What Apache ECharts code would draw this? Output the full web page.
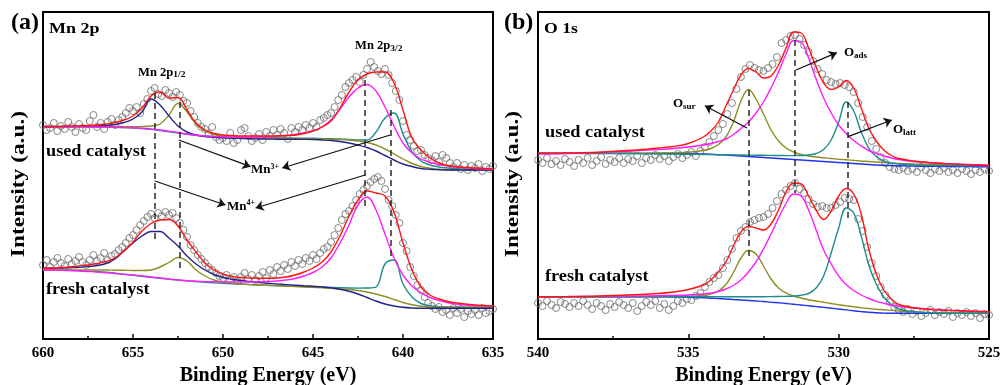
<!DOCTYPE html>
<html>
<head>
<meta charset="utf-8">
<title>XPS Mn 2p / O 1s</title>
<script src="https://cdn.jsdelivr.net/npm/echarts@6/dist/echarts.min.js"></script>
<style>
  html, body { margin: 0; padding: 0; background: #fff; }
  #main { width: 1001px; height: 385px; }
</style>
</head>
<body>
<div id="main"></div>
<script>
// ---------- Mn 2p panel (a): fit curves on a 0.5 eV grid ----------
const mnEnergy = [660,659.5,659,658.5,658,657.5,657,656.5,656,655.5,655,654.5,654,653.5,653,652.5,652,651.5,651,650.5,
  650,649.5,649,648.5,648,647.5,647,646.5,646,645.5,645,644.5,644,643.5,643,642.5,642,641.5,641,640.5,
  640,639.5,639,638.5,638,637.5,637,636.5,636,635.5,635];

// used catalyst
const mnUsedFit = [212.5,212.5,212.7,213,213.2,213.5,214,215,216.5,219,223,231,243,247,241,241.5,229,216,209,205.5,
  204,203.5,203,203,203,203,203.2,203.5,204,205.5,208,212,218,231,247,259,265,267,267,256,
  229,201,189,181,176,173.5,172,171.5,171,170.5,170];
const mnUsedMn4a = [212.3,212.3,212.4,212.5,212.6,212.8,213,213.5,214.5,216.5,220,227,240,234,223,213,207,204,202.5,201.7,
  201.2,200.8,200.5,200.3,200,199.9,199.8,199.7,199.7,199.6,199.5,199,198.5,197.5,196,194,191.5,188,183.5,179,
  175,172.5,170.5,169.7,169.3,169,169,169,169,169,169];
const mnUsedMn3a = [212.5,212.5,212.5,212.5,212.5,212.5,212.5,212.5,212.5,212.4,212.3,212.4,213,215,224,235.5,227,215,208,204.5,
  202.7,202,201.6,201.3,201.1,201,200.8,200.7,200.5,200.4,200.2,200,199.8,199.5,199,198,196.5,194,190,185,
  180,175.5,172.5,170.7,169.8,169.4,169.2,169,169,169,169];
const mnUsedMn4b = [212.3,212.3,212.3,212.2,212.2,212.1,212,212,211.8,211.5,211.2,210.7,210,209,207.8,206.5,205,203.8,203,202.4,
  202,201.8,201.7,201.8,202,202.3,202.8,203.5,204.5,206,208,212,219,230,242,251,254.5,248,232,213,
  196,186,180,176.5,174.5,173,172,171.2,170.5,170,169.5];
const mnUsedMn3b = [212.3,212.3,212.3,212.2,212.2,212.1,212,211.9,211.7,211.4,211,210.4,209.6,208.5,207.2,206,204.7,203.7,203,202.4,
  202,201.7,201.5,201.4,201.3,201.2,201.1,201,200.9,200.8,200.7,200.5,200.3,200,199.5,199,199,207,221,226,
  205,187,178,174,172,171,170.3,169.8,169.5,169.3,169];

// fresh catalyst
const mnFreshFit = [70.7,71,71.5,72,73,74,75.5,77.5,81,88,97,108,115.5,119,119.5,113,99,87,76,69,
  65,62.5,61.5,61,60.7,60.7,61,62,64,67,71,77,87,103,123,139,148,146,143,127,
  96,69,52,44,40,37.5,36,35,34,33.5,33];
const mnFreshMn4a = [70.7,70.8,71,71.3,71.7,72.5,73.5,75.5,80,88,96,103,107.5,107.5,101,93,83,75,69,64.5,
  61.5,59.7,58.5,57.5,56.5,55.7,55,54.4,53.8,53.2,52.7,52.1,51.2,49.7,47.7,45,41.5,38,35,33,
  31.7,31,30.7,30.7,30.7,30.7,30.7,30.7,30.7,30.7,30.7];
const mnFreshMn3a = [69,69,69,69,69,69,69,69,68.8,68.7,68.5,68.5,69,72,76.5,81.5,78,69,63,59,
  57,55.8,55,54.4,54,53.6,53.2,52.8,52.4,52,51.6,51.2,50.8,50.2,49.5,48.5,47,45,42.5,39.5,
  36.5,34.2,32.7,32,31.7,31.7,31.7,31.7,31.7,31.7,31.7];
const mnFreshMn4b = [69,69,68.8,68.5,68,67.5,67,66.3,65.5,64.7,64,63,62,61,60,59,58.2,57.7,57.4,57.2,
  57,57,57,57,57.2,57.5,58,59,60.5,63,66.5,72,81,96,114,134,142,129,105,81,
  64,53,46,41.5,38.5,36.2,35,34,33.5,33.2,33];
const mnFreshMn3b = [69,69,68.9,68.7,68.4,68,67.4,66.7,65.8,64.8,63.8,62.8,61.8,60.8,59.8,59,58.2,57.5,56.8,56.2,
  55.7,55.2,54.8,54.4,54,53.7,53.4,53.1,52.8,52.5,52.2,51.9,51.6,51.3,51,50.9,51,52,75,79,
  55,42,35.5,33.2,32.2,31.8,31.7,31.7,31.7,31.7,31.7];

// measured points, 0.2 eV step
const mnPointEnergy = [660,659.8,659.6,659.4,659.2,659,658.8,658.6,658.4,658.2,658,657.8,657.6,657.4,657.2,
  657,656.8,656.6,656.4,656.2,656,655.8,655.6,655.4,655.2,655,654.8,654.6,654.4,654.2,
  654,653.8,653.6,653.4,653.2,653,652.8,652.6,652.4,652.2,652,651.8,651.6,651.4,651.2,
  651,650.8,650.6,650.4,650.2,650,649.8,649.6,649.4,649.2,649,648.8,648.6,648.4,648.2,
  648,647.8,647.6,647.4,647.2,647,646.8,646.6,646.4,646.2,646,645.8,645.6,645.4,645.2,
  645,644.8,644.6,644.4,644.2,644,643.8,643.6,643.4,643.2,643,642.8,642.6,642.4,642.2,
  642,641.8,641.6,641.4,641.2,641,640.8,640.6,640.4,640.2,640,639.8,639.6,639.4,639.2,
  639,638.8,638.6,638.4,638.2,638,637.8,637.6,637.4,637.2,637,636.8,636.6,636.4,636.2,
  636,635.8,635.6,635.4,635.2,635];
const mnUsedPoints = [214,209,211,216,208,213,210,217,212,207,215,211,209,218,224,
  212,216,210,217,220,214,219,222,226,231,228,232,226,235,240,
  248,251,245,243,249,246,242,247,244,238,236,228,222,216,212,
  210,205,212,202,199,201,198,206,196,199,209,211,203,198,201,
  205,199,207,203,209,204,210,206,200,211,207,212,209,214,211,
  216,212,219,221,224,226,232,239,244,252,256,259,262,257,264,
  270,277,272,268,265,270,264,256,248,239,218,204,199,193,188,
  189,184,181,179,183,177,184,181,176,172,176,170,174,169,173,
  171,175,168,172,170,173];
const mnFreshPoints = [74,79,72,77,81,76,73,80,75,78,82,77,74,79,84,
  78,81,86,79,83,85,89,92,96,101,104,109,114,118,122,
  125,121,126,123,127,124,126,121,116,109,102,94,89,84,80,
  76,72,69,66,63,61,64,59,62,58,62,66,60,64,59,
  63,67,61,69,65,72,68,74,70,77,73,79,75,81,78,
  84,80,86,90,92,97,104,111,119,125,128,133,139,145,149,
  153,157,160,162,158,150,139,133,124,116,96,88,72,63,54,
  49,42,36,33,30,32,27,29,24,31,26,30,22,28,25,
  29,24,31,26,28,30];

// ---------- O 1s panel (b) ----------
const oEnergy = [540,539,538,537,536,535.5,535,534.5,534.25,534,533.75,533.5,533.25,533,532.75,532.5,532.25,532,531.75,531.5,
  531.25,531,530.75,530.5,530.25,530,529.75,529.5,529.25,529,528.75,528.5,528.25,528,527.5,527,526.5,526,525.5,525];

const oUsedFit = [185.7,186,186.7,188.5,191,192.5,195.5,202,208,217,233,249,264,270.5,267,261,263,274,291,307,
  306,291,272,256,249.5,252,258.5,251,231,211,198,189,183.5,180.5,178,176.5,175.5,174.7,174,173.3];
const oUsedSur = [185.7,185.7,185.7,185.8,186,186.2,186.7,188.5,190.5,194.5,202,217,238,249.5,240,225,209,198,191,187,
  184.5,183,182,181.2,180.5,179.8,179.2,178.6,178,177.5,177,176.5,176,175.6,175,174.6,174.3,174,173.8,173.7];
const oUsedAds = [185,185.5,186.5,187.8,189.5,190.5,192,194,195.5,197.5,200,204.5,210.5,217,226,237,251,267,285,298.5,
  297,281,260,241,226,214,205.5,198.5,193,188.5,185.5,183,181,179.5,177.5,176.3,175.5,174.8,174.4,174];
const oUsedLatt = [185.7,185.6,185.5,185.3,185,184.9,184.7,184.5,184.4,184.3,184.2,184.1,184,183.9,183.8,183.7,183.6,183.5,183.4,183.4,
  183.5,184,185.5,189.5,199,217,237,228,207,191,182.5,178,176,175,174,173.6,173.4,173.3,173.3,173.3];
const oUsedBg = [185.7,185.7,185.7,185.7,185.6,185.5,185.3,185,184.7,184.3,183.9,183.5,183,182.5,182,181.5,181,180.5,180,179.5,
  179,178.5,178,177.5,177,176.5,176,175.5,175,174.5,174,173.7,173.4,173.2,172.9,172.7,172.5,172.4,172.3,172.3];

const oFreshFit = [42.3,42.5,43,44,45.5,47,49.5,54,59,67,77,93,107,112.5,111,109,115,129,147,156,
  155,143,129,119.5,128,143,150.5,145,125,90,65,49,40,34.5,31.2,29.7,28.8,28.2,27.7,27.3];
const oFreshSur = [42.3,42.3,42.3,42.3,42.3,42.4,42.6,43.5,45,48,54.5,66.5,81,88.5,85,73,60,51,46,43,
  41,39.3,38,36.7,35.5,34.3,33.2,32.2,31.3,30.5,29.8,29.2,28.6,28,27.2,26.6,26.2,25.9,25.7,25.7];
const oFreshAds = [42.3,42.4,42.6,42.9,43.3,43.6,44,45,46,47.5,50,53.5,59,67,77,90,105,121,135.5,145,
  143,129,109,89,75,63,54.5,48.5,44,40.5,37.7,35.7,34,32.7,31,29.8,29,28.3,27.8,27.3];
const oFreshLatt = [42.3,42.3,42.3,42.3,42.3,42.3,42.3,42.3,42.3,42.3,42.3,42.3,42.3,42.3,42.3,42.3,42.4,42.5,42.7,43,
  43.8,45.5,51,63,86,111,131,126,103,74,55,42,34.5,30,27.2,26.2,25.8,25.7,25.7,25.7];
const oFreshBg = [42.3,42.3,42.3,42.3,42.2,42,41.7,41.2,40.8,40.4,40,39.5,39,38.5,38,37.5,36.8,36.2,35.5,34.8,
  34,33.2,32.4,31.6,30.8,30,29.1,28.2,27.4,26.7,26.2,25.9,25.7,25.7,25.7,25.7,25.7,25.7,25.7,25.7];

// measured points, 0.15 eV step
const oPointEnergy = [540,539.85,539.7,539.55,539.4,539.25,539.1,538.95,538.8,538.65,
  538.5,538.35,538.2,538.05,537.9,537.75,537.6,537.45,537.3,537.15,
  537,536.85,536.7,536.55,536.4,536.25,536.1,535.95,535.8,535.65,
  535.5,535.35,535.2,535.05,534.9,534.75,534.6,534.45,534.3,534.15,
  534,533.85,533.7,533.55,533.4,533.25,533.1,532.95,532.8,532.65,
  532.5,532.35,532.2,532.05,531.9,531.75,531.6,531.45,531.3,531.15,
  531,530.85,530.7,530.55,530.4,530.25,530.1,529.95,529.8,529.65,
  529.5,529.35,529.2,529.05,528.9,528.75,528.6,528.45,528.3,528.15,
  528,527.85,527.7,527.55,527.4,527.25,527.1,526.95,526.8,526.65,
  526.5,526.35,526.2,526.05,525.9,525.75,525.6,525.45,525.3,525.15,525];
const oUsedPoints = [179,176,181,175,178,174,180,177,173,179,
  176,181,174,178,182,175,179,177,181,176,
  180,178,183,176,181,179,184,180,183,178,
  182,185,181,184,187,183,188,192,197,203,
  209,215,225,236,250,262,270,274,271,269,
  268,271,275,282,296,299,303,304,300,294,
  287,278,270,265,259,257,255,256,254,252,
  247,236,222,212,198,190,182,176,172,170,
  169,171,168,170,167,172,169,166,170,168,
  171,167,169,166,170,168,165,169,167,170,168];
const oFreshPoints = [36,33,38,34,31,37,35,32,36,33,
  38,34,30,36,33,29,35,32,37,34,
  31,36,28,33,37,34,38,31,35,29,
  33,38,36,40,39,43,46,52,57,61,
  64,71,79,90,101,108,112,117,119,121,
  122,125,131,138,145,149,153,156,150,146,
  140,135,132,133,131,131,134,137,141,140,
  139,120,108,92,76,63,52,44,37,32,
  29,27,30,25,28,23,26,29,24,27,
  25,28,22,26,24,27,23,26,21,25,24];

// ---------- annotations (data units) ----------
// dashed peak markers: [energy, top, bottom]
const mnPeakMarks = [[653.8, 246, 99], [652.4, 237, 71], [642.1, 259, 132], [640.7, 229, 81]];
const oPeakMarks = [[533.0, 249, 79], [531.45, 299, 146], [529.7, 237, 119]];
// arrows: [[from], [to]]
const mnArrows = [[[652.46, 199], [648.47, 172.3]], [[640.71, 204], [646.71, 171]],
  [[653.79, 158], [649.86, 134]], [[642.1, 164], [648.19, 131]]];
const oArrows = [[[533.05, 211], [534.45, 233.3]], [[531.42, 269], [530.06, 286.3]], [[529.69, 202.3], [528.23, 219]]];

// ---------- chart ----------
const SERIF = '"Liberation Serif", "Times New Roman", serif';
const C = { fit: '#ff1414', mn4a: '#23238c', mn3a: '#8e8e22', mn4b: '#ff1cff', mn3b: '#1f8c8c',
  sur: '#8e8e22', ads: '#ff1cff', latt: '#1f8c8c', bg: '#2233ee' };

function zip(xs, ys) { return xs.map((x, i) => [x, ys[i]]); }

function curve(g, xs, ys, color, extra) {
  return Object.assign({
    type: 'line', xAxisIndex: g, yAxisIndex: g, data: zip(xs, ys),
    smooth: 0.4, symbol: 'none', showSymbol: false, silent: true, z: 3,
    lineStyle: { color: color, width: 1.4 }
  }, extra || {});
}

function dots(g, xs, ys) {
  return {
    type: 'scatter', xAxisIndex: g, yAxisIndex: g, data: zip(xs, ys),
    symbol: 'circle', symbolSize: 7, silent: true, z: 2,
    itemStyle: { color: 'rgba(255,255,255,0)', borderColor: '#6a6a6a', borderWidth: 1 }
  };
}

function dashMarks(list) {
  return {
    silent: true, symbol: 'none', label: { show: false },
    lineStyle: { color: '#2a2a2a', width: 1.5, type: [6, 4] },
    data: list.map(d => [{ coord: [d[0], d[1]] }, { coord: [d[0], d[2]] }])
  };
}

function arrowMarks(list) {
  return {
    silent: true, symbol: ['none', 'arrow'], symbolSize: 8, label: { show: false },
    lineStyle: { color: '#111', width: 1.3, type: 'solid' },
    data: list.map(a => [{ coord: a[0] }, { coord: a[1] }])
  };
}

function xAxisFor(g, min, max) {
  return {
    gridIndex: g, type: 'value', min: min, max: max, interval: 5, inverse: true,
    axisLine: { show: true, onZero: false, lineStyle: { color: '#000', width: 2 } },
    axisTick: { show: true, inside: true, length: 5, lineStyle: { color: '#000', width: 1.5 } },
    minorTick: { show: true, splitNumber: 2, length: 3, lineStyle: { color: '#000', width: 1.5 } },
    splitLine: { show: false }, minorSplitLine: { show: false },
    axisLabel: { color: '#000', fontFamily: SERIF, fontWeight: 700, fontSize: 15, margin: 7 },
    name: 'Binding Energy (eV)', nameLocation: 'middle', nameGap: 22,
    nameTextStyle: { color: '#000', fontFamily: SERIF, fontWeight: 700, fontSize: 20 }
  };
}

function label(x, y, text, size, scaleX) {
  return {
    type: 'text', x: x, y: y, scaleX: scaleX || 1, silent: true, z: 100,
    style: { text: text, fill: '#000', font: 'bold ' + size + 'px ' + SERIF,
      align: 'left', verticalAlign: 'middle', textAlign: 'left', textVerticalAlign: 'middle' }
  };
}

function richLabel(x, y, main, small, mainSize, smallSize, pos, scaleX) {
  return {
    type: 'text', x: x, y: y, scaleX: scaleX || 1, silent: true, z: 100,
    style: {
      text: '{m|' + main + '}{s|' + small + '}', fill: '#000',
      align: 'left', verticalAlign: 'middle', textAlign: 'left', textVerticalAlign: 'middle',
      rich: {
        m: { fontFamily: SERIF, fontWeight: 'bold', fontSize: mainSize, fill: '#000', lineHeight: mainSize + 2 },
        s: { fontFamily: SERIF, fontWeight: 'bold', fontSize: smallSize, fill: '#000', verticalAlign: pos, lineHeight: mainSize + 2 }
      }
    }
  };
}

function yName(x) {
  return {
    type: 'text', x: x, y: 184, rotation: Math.PI / 2, scaleX: 1.3, silent: true, z: 100,
    style: { text: 'Intensity (a.u.)', fill: '#000', font: 'bold 18px ' + SERIF,
      align: 'center', verticalAlign: 'middle', textAlign: 'center', textVerticalAlign: 'middle' }
  };
}

const chart = echarts.init(document.getElementById('main'), null, { renderer: 'canvas' });

chart.setOption({
  backgroundColor: '#fff',
  animation: false,
  textStyle: { fontFamily: SERIF },
  grid: [
    { left: 43, top: 12, width: 450, height: 327, show: true, borderColor: '#000', borderWidth: 2,
      backgroundColor: 'transparent', containLabel: false, outerBoundsMode: 'none' },
    { left: 538, top: 12, width: 451, height: 327, show: true, borderColor: '#000', borderWidth: 2,
      backgroundColor: 'transparent', containLabel: false, outerBoundsMode: 'none' }
  ],
  xAxis: [xAxisFor(0, 635, 660), xAxisFor(1, 525, 540)],
  yAxis: [
    { gridIndex: 0, type: 'value', min: 0, max: 327, show: false },
    { gridIndex: 1, type: 'value', min: 0, max: 327, show: false }
  ],
  series: [
    dots(0, mnPointEnergy, mnUsedPoints),
    dots(0, mnPointEnergy, mnFreshPoints),
    curve(0, mnEnergy, mnUsedMn3b, C.mn3b),
    curve(0, mnEnergy, mnUsedMn3a, C.mn3a),
    curve(0, mnEnergy, mnUsedMn4a, C.mn4a),
    curve(0, mnEnergy, mnUsedMn4b, C.mn4b),
    curve(0, mnEnergy, mnUsedFit, C.fit, { z: 4, markLine: dashMarks(mnPeakMarks) }),
    curve(0, mnEnergy, mnFreshMn3b, C.mn3b),
    curve(0, mnEnergy, mnFreshMn3a, C.mn3a),
    curve(0, mnEnergy, mnFreshMn4a, C.mn4a),
    curve(0, mnEnergy, mnFreshMn4b, C.mn4b),
    curve(0, mnEnergy, mnFreshFit, C.fit, { z: 4, markLine: arrowMarks(mnArrows) }),

    dots(1, oPointEnergy, oUsedPoints),
    dots(1, oPointEnergy, oFreshPoints),
    curve(1, oEnergy, oUsedBg, C.bg),
    curve(1, oEnergy, oUsedSur, C.sur),
    curve(1, oEnergy, oUsedLatt, C.latt),
    curve(1, oEnergy, oUsedAds, C.ads),
    curve(1, oEnergy, oUsedFit, C.fit, { z: 4, markLine: dashMarks(oPeakMarks) }),
    curve(1, oEnergy, oFreshBg, C.bg),
    curve(1, oEnergy, oFreshSur, C.sur),
    curve(1, oEnergy, oFreshLatt, C.latt),
    curve(1, oEnergy, oFreshAds, C.ads),
    curve(1, oEnergy, oFreshFit, C.fit, { z: 4, markLine: arrowMarks(oArrows) })
  ],
  graphic: [
    label(11, 22.5, '(a)', 24),
    label(504, 22.5, '(b)', 24),
    label(49, 29, 'Mn 2p', 15, 1.2),
    label(544, 29, 'O 1s', 15, 1.18),
    label(46, 151.5, 'used catalyst', 16, 1.14),
    label(46, 290, 'fresh catalyst', 16, 1.14),
    label(545, 132.5, 'used catalyst', 16, 1.14),
    label(545, 276.5, 'fresh catalyst', 16, 1.14),
    richLabel(138, 72.5, 'Mn 2p', '1/2', 12, 9, 'bottom', 1.05),
    richLabel(355, 46, 'Mn 2p', '3/2', 12, 9, 'bottom', 1.05),
    richLabel(251, 170, 'Mn', '3+', 13, 8, 'top'),
    richLabel(227, 206.5, 'Mn', '4+', 13, 8, 'top'),
    richLabel(673, 104, 'O', 'sur', 13, 9, 'bottom'),
    richLabel(844, 53, 'O', 'ads', 13, 9, 'bottom'),
    richLabel(893, 130, 'O', 'latt', 13, 9, 'bottom'),
    yName(19),
    yName(513)
  ]
});
</script>
</body>
</html>
